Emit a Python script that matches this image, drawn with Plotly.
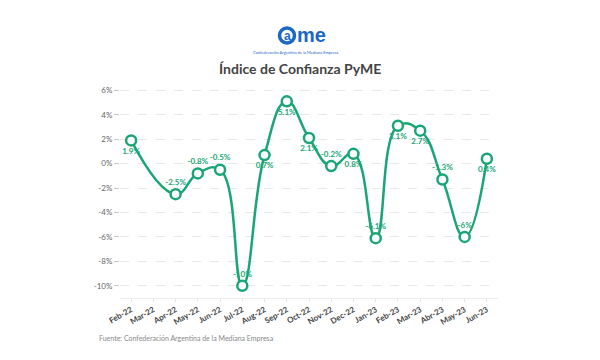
import plotly.graph_objects as go

months = ["Feb-22", "Mar-22", "Apr-22", "May-22", "Jun-22", "Jul-22", "Aug-22", "Sep-22",
          "Oct-22", "Nov-22", "Dec-22", "Jan-23", "Feb-23", "Mar-23", "Abr-23", "May-23", "Jun-23"]
values = [1.9, None, -2.5, -0.8, -0.5, -10, 0.7, 5.1, 2.1, -0.2, 0.8, -6.1, 3.1, 2.7, -1.3, -6, 0.4]
point_labels = ["1.9%", "", "-2.5%", "-0.8%", "-0.5%", "-10%", "0.7%", "5.1%", "2.1%", "-0.2%",
                "0.8%", "-6.1%", "3.1%", "2.7%", "-1.3%", "-6%", "0.4%"]
label_pos = ["bottom center", "top center", "top center", "top center", "top center", "top center",
             "bottom center", "bottom center", "bottom center", "top center", "bottom center",
             "top center", "bottom center", "bottom center", "top center", "top center", "bottom center"]
y_ticks = [6, 4, 2, 0, -2, -4, -6, -8, -10]

GREEN = "#19a674"
BLUE = "#1b68c6"
FONT = "Lato"

# page offset of the plot div (browser default body margin)
OFF = 8
W, H = 600 - OFF, 360 - OFF
# plot area in page pixels
L, R, T, B = 120, 498, 83, 298
def px(x): return (x - L) / (R - L)
def py(y): return (B - y) / (B - T)

fig = go.Figure()
fig.add_trace(go.Scatter(
    x=months, y=values, mode="lines+markers+text",
    text=point_labels, textposition=label_pos,
    textfont=dict(family=FONT, size=8, color=GREEN, weight="bold"),
    line=dict(color=GREEN, width=2.5, shape="spline", smoothing=1.3),
    marker=dict(size=10, color="white", line=dict(color=GREEN, width=2.5)),
    connectgaps=True, cliponaxis=False, hoverinfo="skip",
))

fig.update_layout(
    width=W, height=H,
    margin=dict(l=L - OFF, r=W - (R - OFF), t=T - OFF, b=H - (B - OFF), autoexpand=False),
    paper_bgcolor="white", plot_bgcolor="white",
    showlegend=False,
    font=dict(family=FONT),
    xaxis=dict(
        type="category", range=[-0.5, 16.5], automargin=False,
        tickangle=-30, tickfont=dict(family=FONT, size=8, color="#444", weight="bold"),
        showgrid=False, showline=True, linecolor="#eeeeee", linewidth=1,
        ticks="outside", ticklen=3, tickcolor="#e6e6e6", fixedrange=True,
    ),
    yaxis=dict(
        range=[-11, 6.6], tickvals=y_ticks, ticktext=[f"{v}%" for v in y_ticks],
        tickfont=dict(family=FONT, size=8, color="#666"), automargin=False,
        showgrid=True, gridcolor="#e8e8e8", griddash="dash", gridwidth=1,
        zeroline=False, showline=False,
        ticks="outside", ticklen=5, tickcolor="#c8c8c8",
    ),
    shapes=[
        dict(type="circle", xref="paper", yref="paper",
             x0=px(279.5), x1=px(294.5), y0=py(43), y1=py(28),
             line=dict(color=BLUE, width=3.5), fillcolor="rgba(0,0,0,0)"),
    ],
    annotations=[
        dict(text="<b>a</b>", xref="paper", yref="paper", x=px(287), y=py(35.5),
             showarrow=False, font=dict(family="Liberation Sans", size=12, color=BLUE),
             xanchor="center", yanchor="middle"),
        dict(text="<b>me</b>", xref="paper", yref="paper", x=px(294.5), y=py(35),
             showarrow=False, font=dict(family="Liberation Sans", size=20, color=BLUE),
             xanchor="left", yanchor="middle"),
        dict(text="Confederación Argentina de la Mediana Empresa", xref="paper", yref="paper",
             x=px(295), y=py(52), showarrow=False,
             font=dict(family=FONT, size=4, color=BLUE), xanchor="center", yanchor="middle"),
        dict(text="<b>Índice de Confianza PyME</b>", xref="paper", yref="paper",
             x=px(300), y=py(68), showarrow=False,
             font=dict(family=FONT, size=14, color="#444"), xanchor="center", yanchor="middle"),
        dict(text="Fuente: Confederación Argentina de la Mediana Empresa", xref="paper", yref="paper",
             x=px(97), y=py(338), showarrow=False,
             font=dict(family=FONT, size=7, color="#888"), xanchor="left", yanchor="middle"),
    ],
)

fig.write_html("out.html")
